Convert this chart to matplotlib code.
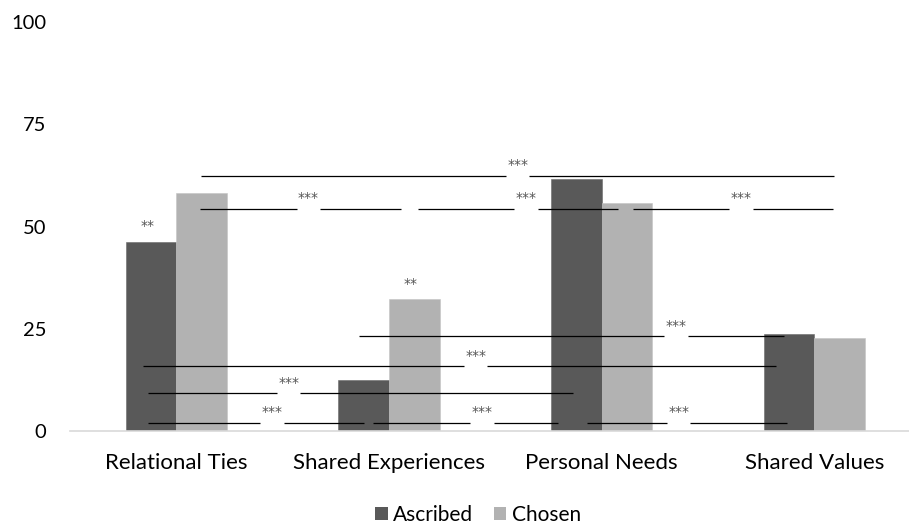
import matplotlib
matplotlib.use("Agg")
import matplotlib.pyplot as plt
from matplotlib.patches import Patch
import numpy as np

plt.rcParams['font.family'] = ['Lato', 'DejaVu Sans']

categories = ["Relational Ties", "Shared Experiences", "Personal Needs", "Shared Values"]
ascribed = [46.3, 12.5, 61.5, 23.6]
chosen = [58.3, 32.3, 55.7, 22.7]
y_ticks = [0, 25, 50, 75, 100]

# pairwise comparisons: (start x, end x, label x, level, label)
comparisons = [
    (0.116, 3.094, 1.605, 62.4, "***"),
    (0.113, 1.057, 0.621, 54.4, "***"),
    (1.135, 2.078, 1.644, 54.4, "***"),
    (2.146, 3.086, 2.655, 54.4, "***"),
    (0.860, 2.859, 2.348, 23.2, "***"),
    (-0.155, 2.820, 1.407, 15.9, "***"),
    (-0.132, 1.863, 0.528, 9.2, "***"),
    (-0.135, 0.884, 0.450, 2.0, "***"),
    (0.926, 1.796, 1.437, 2.0, "***"),
    (1.929, 2.872, 2.362, 2.0, "***"),
]
# within-category markers: (category index, series, label)
within = [(0, "ascribed", "**"), (1, "chosen", "**")]

c_asc = "#595959"
c_cho = "#b2b2b2"
star_font = dict(family="DejaVu Sans", fontsize=10, color="#555555")

fig = plt.figure(figsize=(9.09, 5.26), dpi=100)
ax = fig.add_axes([70 / 909, (526 - 431) / 526, 850.7 / 909, 409 / 526])

x = np.arange(len(categories))
w = 0.238
ax.bar(x - w / 2, ascribed, w, color=c_asc, edgecolor="#6a6a6a", linewidth=0.4, label="Ascribed", zorder=2)
ax.bar(x + w / 2, chosen, w, color=c_cho, edgecolor="#c4c4c4", linewidth=0.4, label="Chosen", zorder=2)

gap = 0.0555
for x0, x1, lx, y, lab in comparisons:
    ax.plot([x0, lx - gap], [y, y], color="black", lw=0.9, solid_capstyle="butt", zorder=3)
    ax.plot([lx + gap, x1], [y, y], color="black", lw=0.9, solid_capstyle="butt", zorder=3)
    ax.annotate(lab, (lx, y), xytext=(0, 7.5), textcoords="offset points",
                ha="center", va="center", zorder=4, **star_font)

for i, series, lab in within:
    if series == "ascribed":
        bx, by = x[i] - w / 2, ascribed[i]
    else:
        bx, by = x[i] + w / 2, chosen[i]
    ax.annotate(lab, (bx, by), xytext=(-2.5, 11), textcoords="offset points",
                ha="center", va="center", zorder=4, **star_font)

ax.set_xlim(-0.5, 3.5)
ax.set_ylim(0, 100)
ax.set_yticks(y_ticks)
ax.set_yticklabels([str(t) for t in y_ticks], fontsize=14.5)
ax.set_xticks(x)
ax.set_xticklabels(categories, fontsize=16)
ax.tick_params(axis="both", length=0, colors="black")
ax.tick_params(axis="y", pad=17)
ax.tick_params(axis="x", pad=16)
for s in ["top", "right", "left"]:
    ax.spines[s].set_visible(False)
ax.spines["bottom"].set_color("#d9d9d9")
ax.spines["bottom"].set_linewidth(1.2)

handles = [Patch(facecolor=c_asc, label="Ascribed"), Patch(facecolor=c_cho, label="Chosen")]
fig.legend(handles=handles, loc="center", bbox_to_anchor=(478 / 909, 1 - 515 / 526),
           ncol=2, frameon=False, fontsize=15, handlelength=0.6, handleheight=0.6,
           handletextpad=0.25, columnspacing=1.0, borderpad=0.2)

fig.savefig("out.png", dpi=100)
